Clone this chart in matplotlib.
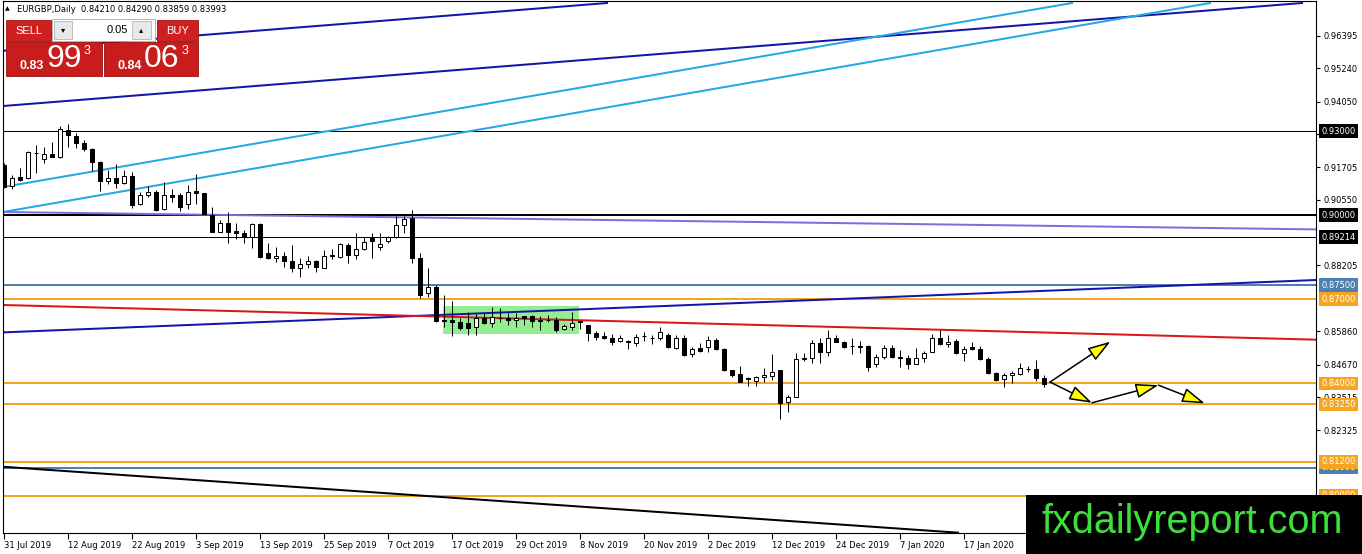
import matplotlib
matplotlib.use("Agg")
import numpy as np
import matplotlib.pyplot as plt
from matplotlib.patches import Rectangle

symbol = "EURGBP"
timeframe = "Daily"
lot_size = "0.05"
bid_price = 0.83993
ask_price = 0.84063

# daily candles, 31 Jul 2019 .. end of Jan 2020
opens = [0.9179, 0.9104, 0.9135, 0.9131, 0.9221, 0.9199, 0.9218, 0.9208, 0.9304, 0.9282,
         0.9258, 0.9235, 0.9191, 0.9123, 0.9131, 0.9114, 0.9140, 0.9039, 0.9071, 0.9083,
         0.9021, 0.9072, 0.9071, 0.9039, 0.9086, 0.9078, 0.9001, 0.8941, 0.8971, 0.8943,
         0.8935, 0.8921, 0.8968, 0.8864, 0.8847, 0.8854, 0.8838, 0.8811, 0.8826, 0.8838,
         0.8813, 0.8859, 0.8852, 0.8894, 0.8858, 0.8878, 0.8917, 0.8888, 0.8909, 0.8921,
         0.8964, 0.8989, 0.8846, 0.8722, 0.8745, 0.8626, 0.8626, 0.8620, 0.8614, 0.8600,
         0.8632, 0.8614, 0.8633, 0.8632, 0.8626, 0.8639, 0.8640, 0.8626, 0.8625, 0.8626,
         0.8594, 0.8602, 0.8623, 0.8608, 0.8579, 0.8570, 0.8563, 0.8551, 0.8550, 0.8543,
         0.8569, 0.8563, 0.8561, 0.8573, 0.8527, 0.8561, 0.8504, 0.8525, 0.8531, 0.8555,
         0.8523, 0.8448, 0.8433, 0.8418, 0.8410, 0.8422, 0.8427, 0.8448, 0.8333, 0.8351,
         0.8492, 0.8490, 0.8543, 0.8513, 0.8563, 0.8549, 0.8534, 0.8535, 0.8535, 0.8469,
         0.8495, 0.8525, 0.8495, 0.8492, 0.8469, 0.8492, 0.8511, 0.8563, 0.8540, 0.8552,
         0.8507, 0.8531, 0.8522, 0.8486, 0.8436, 0.8415, 0.8430, 0.8434, 0.8452, 0.8450,
         0.84210]
highs = [0.9185, 0.9143, 0.9167, 0.9229, 0.9250, 0.9242, 0.9262, 0.9318, 0.9325, 0.9294,
         0.9268, 0.9238, 0.9194, 0.9161, 0.9182, 0.9161, 0.9155, 0.9084, 0.9104, 0.9090,
         0.9119, 0.9092, 0.9078, 0.9106, 0.9147, 0.9079, 0.9028, 0.8983, 0.9012, 0.8971,
         0.8947, 0.8973, 0.8971, 0.8900, 0.8888, 0.8870, 0.8894, 0.8846, 0.8854, 0.8840,
         0.8876, 0.8878, 0.8902, 0.8902, 0.8935, 0.8923, 0.8935, 0.8935, 0.8926, 0.8997,
         0.8997, 0.9018, 0.8864, 0.8812, 0.8750, 0.8715, 0.8694, 0.8632, 0.8656, 0.8650,
         0.8650, 0.8674, 0.8670, 0.8650, 0.8650, 0.8642, 0.8644, 0.8642, 0.8644, 0.8638,
         0.8611, 0.8654, 0.8623, 0.8608, 0.8587, 0.8585, 0.8575, 0.8573, 0.8555, 0.8575,
         0.8582, 0.8573, 0.8602, 0.8579, 0.8573, 0.8573, 0.8531, 0.8544, 0.8570, 0.8562,
         0.8525, 0.8448, 0.8463, 0.8424, 0.8427, 0.8456, 0.8505, 0.8448, 0.8359, 0.8507,
         0.8507, 0.8555, 0.8561, 0.8591, 0.8573, 0.8551, 0.8561, 0.8551, 0.8537, 0.8504,
         0.8537, 0.8537, 0.8519, 0.8501, 0.8527, 0.8516, 0.8576, 0.8591, 0.8573, 0.8557,
         0.8534, 0.8549, 0.8534, 0.8495, 0.8442, 0.8436, 0.8444, 0.8474, 0.8462, 0.8484,
         0.84290]
lows = [0.9096, 0.9092, 0.9123, 0.9129, 0.9151, 0.9185, 0.9207, 0.9203, 0.9244, 0.9238,
        0.9230, 0.9158, 0.9087, 0.9111, 0.9098, 0.9110, 0.9024, 0.9036, 0.9064, 0.9015,
        0.9020, 0.9047, 0.9016, 0.9023, 0.9040, 0.9003, 0.8940, 0.8940, 0.8902, 0.8914,
        0.8902, 0.8882, 0.8849, 0.8845, 0.8834, 0.8816, 0.8798, 0.8781, 0.8810, 0.8798,
        0.8810, 0.8844, 0.8846, 0.8828, 0.8843, 0.8876, 0.8846, 0.8876, 0.8900, 0.8920,
        0.8935, 0.8828, 0.8704, 0.8708, 0.8620, 0.8602, 0.8570, 0.8591, 0.8573, 0.8573,
        0.8611, 0.8602, 0.8620, 0.8608, 0.8602, 0.8608, 0.8602, 0.8591, 0.8620, 0.8582,
        0.8591, 0.8591, 0.8594, 0.8551, 0.8555, 0.8558, 0.8537, 0.8547, 0.8523, 0.8535,
        0.8551, 0.8540, 0.8555, 0.8525, 0.8523, 0.8498, 0.8495, 0.8512, 0.8511, 0.8519,
        0.8444, 0.8424, 0.8405, 0.8391, 0.8392, 0.8406, 0.8412, 0.8272, 0.8297, 0.8351,
        0.8480, 0.8472, 0.8472, 0.8499, 0.8547, 0.8525, 0.8504, 0.8507, 0.8444, 0.8458,
        0.8487, 0.8490, 0.8460, 0.8450, 0.8468, 0.8475, 0.8511, 0.8537, 0.8531, 0.8505,
        0.8481, 0.8519, 0.8484, 0.8434, 0.8410, 0.8386, 0.8403, 0.8430, 0.8442, 0.8410,
        0.83859]
closes = [0.9101, 0.9134, 0.9126, 0.9224, 0.9220, 0.9218, 0.9208, 0.9307, 0.9285, 0.9256,
          0.9235, 0.9188, 0.9123, 0.9131, 0.9114, 0.9140, 0.9036, 0.9071, 0.9083, 0.9018,
          0.9071, 0.9066, 0.9030, 0.9084, 0.9078, 0.9004, 0.8941, 0.8971, 0.8941, 0.8935,
          0.8921, 0.8968, 0.8850, 0.8846, 0.8854, 0.8838, 0.8811, 0.8826, 0.8838, 0.8814,
          0.8855, 0.8855, 0.8896, 0.8858, 0.8878, 0.8903, 0.8908, 0.8897, 0.8921, 0.8964,
          0.8986, 0.8846, 0.8715, 0.8744, 0.8624, 0.8624, 0.8620, 0.8597, 0.8599, 0.8632,
          0.8614, 0.8638, 0.8632, 0.8626, 0.8634, 0.8634, 0.8624, 0.8623, 0.8626, 0.8591,
          0.8606, 0.8614, 0.8618, 0.8579, 0.8567, 0.8563, 0.8549, 0.8563, 0.8549, 0.8567,
          0.8568, 0.8562, 0.8582, 0.8531, 0.8563, 0.8501, 0.8523, 0.8516, 0.8555, 0.8523,
          0.8448, 0.8430, 0.8406, 0.8417, 0.8422, 0.8430, 0.8442, 0.8331, 0.8353, 0.8486,
          0.8486, 0.8543, 0.8511, 0.8563, 0.8549, 0.8529, 0.8533, 0.8531, 0.8460, 0.8495,
          0.8525, 0.8495, 0.8492, 0.8469, 0.8492, 0.8510, 0.8563, 0.8540, 0.8549, 0.8507,
          0.8522, 0.8522, 0.8486, 0.8436, 0.8412, 0.8429, 0.8438, 0.8454, 0.8451, 0.8418,
          0.83993]

date_labels = ["31 Jul 2019", "12 Aug 2019", "22 Aug 2019", "3 Sep 2019", "13 Sep 2019",
               "25 Sep 2019", "7 Oct 2019", "17 Oct 2019", "29 Oct 2019", "8 Nov 2019",
               "20 Nov 2019", "2 Dec 2019", "12 Dec 2019", "24 Dec 2019", "7 Jan 2020",
               "17 Jan 2020"]
bars_per_label = 8

# price scale labels (the ones fully hidden behind level tags are left out)
price_ticks = [0.96395, 0.95240, 0.94050, 0.92895, 0.91705, 0.90550, 0.88205,
               0.85860, 0.84670, 0.83515, 0.82325]

black_levels = [0.93000, 0.89214]
thick_levels = [0.90000]
steel_levels = [0.87500, 0.81000]
orange_levels = [0.87000, 0.84000, 0.83250, 0.81200, 0.80000]

# trend lines as (bar index pair, price pair)
navy_lines = [([-0.125, 162.25], [0.93891, 0.97563]),
              ([-0.125, 75.375], [0.95859, 0.97563]),
              ([-0.125, 164.0], [0.85820, 0.87688])]
sky_lines = [([-0.125, 133.5], [0.91004, 0.97563]),
             ([-0.125, 150.75], [0.90112, 0.97563])]
purple_line = ([-0.125, 164.0], [0.90112, 0.89492])
red_line = ([-0.125, 164.0], [0.86797, 0.85560])
black_line = ([-0.125, 119.25], [0.81030, 0.78680])

# consolidation box
box_bars = [54.9, 71.9]
box_prices = [0.8576, 0.8676]

# forecast arrows
arrow_up = [(130.75, 0.8405), (138.3, 0.8549)]
arrow_path = [(130.75, 0.8405), (136.0, 0.8331), (144.3, 0.8394), (150.1, 0.8329)]

W, H = 1362, 554
fig = plt.figure(figsize=(W / 100, H / 100), dpi=100)
fig.patch.set_facecolor("white")
ax = fig.add_axes([3 / W, 21 / H, 1313 / W, 532 / H])
ax.set_xlim(-0.125, 164)
ax.set_ylim(0.78668, 0.97635)
for s in ax.spines.values():
    s.set_color("black")
    s.set_linewidth(0.8)

px = 0.72  # one pixel in points

# horizontal levels
for p in black_levels:
    ax.axhline(p, color="black", lw=1 * px, zorder=2)
for p in thick_levels:
    ax.axhline(p, color="black", lw=2 * px, zorder=2)
for p in steel_levels:
    ax.axhline(p, color="#4f81b0", lw=2 * px, zorder=2)
for p in orange_levels:
    ax.axhline(p, color="#f4a521", lw=2 * px, zorder=2)

# box and trend lines
ax.add_patch(Rectangle((box_bars[0], box_prices[0]), box_bars[1] - box_bars[0],
                       box_prices[1] - box_prices[0], fc="#93ee8f", ec="none", zorder=1))
for xs, ys in navy_lines:
    ax.plot(xs, ys, color="#1414a8", lw=2 * px, zorder=2)
for xs, ys in sky_lines:
    ax.plot(xs, ys, color="#22a8e2", lw=2 * px, zorder=2)
ax.plot(*purple_line, color="#7b6ee0", lw=2 * px, zorder=2)
ax.plot(*red_line, color="#dc1616", lw=2 * px, zorder=2)
ax.plot(*black_line, color="black", lw=2 * px, zorder=2)

# candles
o = np.array(opens); h = np.array(highs); l = np.array(lows); c = np.array(closes)
idx = np.arange(len(o))
up = c >= o
ax.vlines(idx, l, h, color="black", lw=1 * px, zorder=3)
ax.bar(idx[up], (c - o)[up], bottom=o[up], width=0.6, color="white",
       edgecolor="black", lw=1 * px, zorder=4)
ax.bar(idx[~up], (o - c)[~up], bottom=c[~up], width=0.6, color="black",
       edgecolor="black", lw=1 * px, zorder=4)

# arrows
aprops = dict(arrowstyle="-|>,head_length=1.4,head_width=0.45", fc="#ffff00", ec="black",
              lw=1.1, mutation_scale=10, shrinkA=0, shrinkB=0)
ax.annotate("", xy=arrow_up[1], xytext=arrow_up[0], arrowprops=aprops, zorder=6)
for a, b in zip(arrow_path[:-1], arrow_path[1:]):
    ax.annotate("", xy=b, xytext=a, arrowprops=aprops, zorder=6)

# axes ticks
ax.set_xticks(np.arange(len(date_labels)) * bars_per_label)
ax.set_xticklabels(date_labels)
for t in ax.get_xticklabels():
    t.set_ha("left")
ax.tick_params(axis="x", direction="out", length=4, width=0.8, labelsize=6, pad=2)
ax.yaxis.tick_right()
ax.set_yticks(price_ticks)
ax.set_yticklabels([f"{v:.5f}" for v in price_ticks])
ax.tick_params(axis="y", direction="out", length=3, width=0.8, labelsize=6, pad=2.2)

# level tags on the price scale
def tag(price, color, z):
    ax.annotate(f"{price:.5f}", xy=(1, price), xycoords=("axes fraction", "data"),
                xytext=(4.0, 0), textcoords="offset points", va="center", ha="left",
                fontsize=6, color="white", annotation_clip=False, zorder=z,
                bbox=dict(boxstyle="square,pad=0.28", fc=color, ec="none"))

z = 10
for p in steel_levels:
    tag(p, "#4f81b0", z); z += 1
for p in black_levels + thick_levels:
    tag(p, "black", z); z += 1
for p in orange_levels:
    tag(p, "#f4a521", z); z += 1


# trade panel in pixel coordinates
def rect(x0, y0, x1, y1, fc, ec="none", lw=0):
    fig.add_artist(Rectangle((x0 / W, 1 - y1 / H), (x1 - x0) / W, (y1 - y0) / H,
                             transform=fig.transFigure, fc=fc, ec=ec, lw=lw))


def text(x, y, s, **kw):
    fig.text(x / W, 1 - y / H, s, **kw)


last = f"{opens[-1]:.5f} {highs[-1]:.5f} {lows[-1]:.5f} {closes[-1]:.5f}"
text(5, 9, "\u25b2", fontsize=4.5, va="center", ha="left")
text(17, 9, f"{symbol},{timeframe}  {last}", fontsize=6, va="center", ha="left")

red = "#cf2020"
rect(52, 19, 155, 41, "white", "#a8a8a8", 0.6)
rect(6, 20, 51, 41, red, "#a01010", 0.6)
rect(157, 20, 198, 41, red, "#a01010", 0.6)
rect(54, 21, 72, 39, "#e8e8e8", "#b4b4b4", 0.6)
rect(132, 21, 151, 39, "#e8e8e8", "#b4b4b4", 0.6)
text(63, 30, "\u25be", fontsize=6, ha="center", va="center")
text(141.5, 30, "\u25b4", fontsize=6, ha="center", va="center")
text(128, 30, lot_size, fontsize=8, ha="right", va="center", family="Liberation Sans")
text(28.5, 31, "SELL", fontsize=8, ha="center", va="center", color="white",
     family="Liberation Sans")
text(177.5, 31, "BUY", fontsize=8, ha="center", va="center", color="white",
     family="Liberation Sans")

rect(6, 42, 102, 76, "#c91c1c", "#951010", 0.6)
rect(104, 42, 198, 76, "#c91c1c", "#951010", 0.6)
for s, x0 in ((f"{bid_price:.5f}", 19), (f"{ask_price:.5f}", 117)):
    text(x0, 66, s[:4], fontsize=9, fontweight="bold", color="white", ha="left",
         va="center", family="Liberation Sans")
    text(x0 + 27, 59, s[4:6], fontsize=23, color="white", ha="left", va="center",
         family="Liberation Sans")
    text(x0 + 68, 51, s[6], fontsize=9, color="white", ha="center", va="center",
         family="Liberation Sans")

# watermark
rect(1026, 495, 1362, 554, "black")
text(1041, 533, "fxdailyreport.com", fontsize=28.5, color="#3ddf3a", ha="left",
     va="baseline", family="Liberation Sans")

fig.savefig("out.png", dpi=100)
